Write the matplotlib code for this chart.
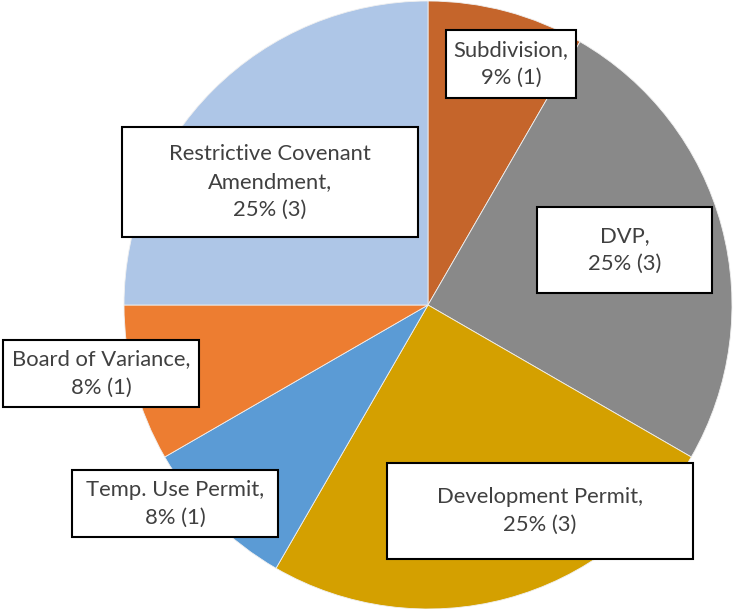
import matplotlib.pyplot as plt
from matplotlib.patches import Rectangle

categories = ['Subdivision', 'DVP', 'Development Permit', 'Temp. Use Permit',
              'Board of Variance', 'Restrictive Covenant Amendment']
counts = [1, 3, 3, 1, 1, 3]
pct_labels = ['9%', '25%', '25%', '8%', '8%', '25%']
label_text = ['Subdivision,\n9% (1)', 'DVP,\n25% (3)', 'Development Permit,\n25% (3)',
              'Temp. Use Permit,\n8% (1)', 'Board of Variance,\n8% (1)',
              'Restrictive Covenant\nAmendment,\n25% (3)']
colors = ['#C5652B', '#898989', '#D4A000', '#5B9BD5', '#ED7D31', '#AEC6E7']

# label boxes in pixel space (left, top, right, bottom) of the 734x609 picture
boxes_px = [(446, 30, 576, 98), (537, 207, 712, 293), (387, 463, 693, 559),
            (72, 470, 278, 537), (3, 340, 199, 407), (122, 127, 418, 237)]

W, H = 734, 609
cx, cy, r = 428, 305, 304

fig = plt.figure(figsize=(W / 100, H / 100), dpi=100)
ax = fig.add_axes([0, 0, 1, 1])
ax.pie(counts, colors=colors, startangle=90, counterclock=False,
       wedgeprops=dict(edgecolor='#f0f0f0', linewidth=0.6))
ax.set_aspect('equal')
ax.set_xlim(-cx / r, (W - cx) / r)
ax.set_ylim(-(H - cy) / r, cy / r)
ax.axis('off')


def px(x, y):
    return (x - cx) / r, (cy - y) / r


for (l, t, rr, b), txt in zip(boxes_px, label_text):
    x0, y1 = px(l, t)
    x1, y0 = px(rr, b)
    ax.add_patch(Rectangle((x0, y0), x1 - x0, y1 - y0, facecolor='white',
                           edgecolor='black', linewidth=1.5, zorder=3))
    ax.text((x0 + x1) / 2, (y0 + y1) / 2, txt, ha='center', va='center',
            fontsize=15.8, color='#404040', family='Lato', linespacing=1.5,
            zorder=4)

fig.savefig('out.png', dpi=100)
